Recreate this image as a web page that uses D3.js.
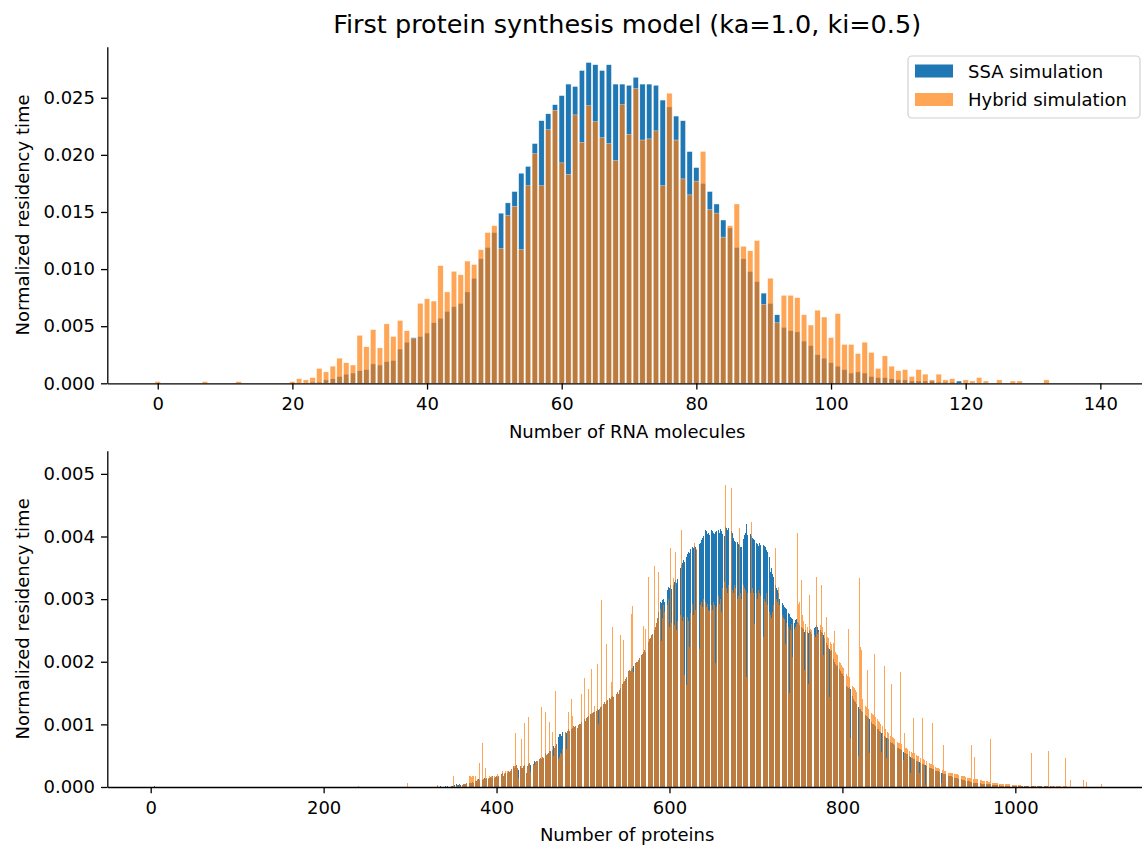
<!DOCTYPE html>
<html><head><meta charset="utf-8">
<script src="https://cdn.jsdelivr.net/npm/d3@7"></script>
<style>
body{margin:0;background:#fff}
svg{display:block}
text{font-family:"DejaVu Sans",sans-serif;fill:#000}
</style>
</head><body>
<svg id="chart" width="1142" height="845"></svg>
<script>
// ---------------- DATA ----------------
const titleText = "First protein synthesis model (ka=1.0, ki=0.5)";
const seriesNames = ["SSA simulation", "Hybrid simulation"];
const yLabelText = "Normalized residency time";
const rnaXLabel = "Number of RNA molecules";
const proteinXLabel = "Number of proteins";

// RNA histogram: categories 0..132
const rnaCounts = d3.range(0, 133);
const ssaRna = [
0,0,0,0,0,0,0,0,0,0,
0,0,0,0,0,0,0,0,0,0,
0,0,0,0.0001,0.0001,0.0003,0.0004,0.0006,0.0008,0.0009,
0.0011,0.0012,0.0017,0.0016,0.0019,0.0020,0.0030,0.0036,0.0040,0.0041,
0.0044,0.0053,0.0057,0.0063,0.0067,0.0070,0.0080,0.0092,0.0109,0.0119,
0.0132,0.0149,0.0158,0.0168,0.0184,0.0190,0.0210,0.0230,0.0236,0.0244,
0.0252,0.0262,0.0260,0.0274,0.0281,0.0279,0.0274,0.0279,0.0262,0.0262,
0.0261,0.0268,0.0262,0.0262,0.0261,0.0248,0.0242,0.0234,0.0230,0.0203,
0.0189,0.0175,0.0168,0.0157,0.0143,0.0136,0.0119,0.0109,0.0098,0.0089,
0.0079,0.0070,0.0060,0.0049,0.0046,0.0045,0.0037,0.0033,0.0025,0.0022,
0.0018,0.0015,0.0012,0.0009,0.0010,0.0009,0.0006,0.0005,0.0005,0.0004,
0.0003,0.0003,0.0002,0.0002,0.0002,0.0002,0.0001,0.0001,0.0001,0.0002,
0,0,0,0,0,0,0,0,0,0,0,0,0
];
const hybridRna = [
0.00015,0,0,0,0,0,0,0.00015,0,0,
0,0,0.00015,0,0,0,0,0,0,0,
0.00015,0.0004,0.0003,0.0005,0.0013,0.0010,0.0015,0.0022,0.0018,0.0016,
0.0042,0.0032,0.0047,0.0031,0.0052,0.0041,0.0055,0.0046,0.0039,0.0070,
0.0074,0.0072,0.0103,0.0080,0.0098,0.0095,0.0107,0.0104,0.0117,0.0132,
0.0138,0.0118,0.0147,0.0155,0.0117,0.0173,0.0201,0.0173,0.0222,0.0239,
0.0193,0.0183,0.0235,0.0211,0.0243,0.0229,0.0215,0.0210,0.0195,0.0244,
0.0218,0.0258,0.0213,0.0214,0.0221,0.0173,0.0254,0.0213,0.0179,0.0165,
0.0177,0.0203,0.0152,0.0149,0.0128,0.0138,0.0157,0.0120,0.0116,0.0125,
0.0069,0.0092,0.0053,0.0077,0.0077,0.0075,0.0060,0.0051,0.0064,0.0058,
0.0040,0.0061,0.0034,0.0034,0.0026,0.0036,0.0027,0.0013,0.0024,0.0015,
0.0011,0.0012,0.0006,0.0012,0.0008,0.0003,0.0008,0.0003,0.0004,0,
0.0003,0.0002,0.0005,0.0002,0,0.0003,0,0.0002,0.0002,0,0,0,0.0003
];
const rnaXTicks = [0,20,40,60,80,100,120,140];
const rnaYTicks = [0,0.005,0.010,0.015,0.020,0.025];

// Protein histogram: values in units of 1e-5, categories start at 330
const proteinUnit = 1e-5;
const proteinStart = 330;
const ssaProtein = [
0,0,1,0,0,1,0,0,1,0,
0,1,0,1,0,1,1,0,1,2,
2,3,3,2,4,3,3,4,3,4,
4,3,5,4,5,6,5,6,7,6,
7,6,8,7,9,8,10,9,11,12,
11,10,12,13,11,12,14,13,15,16,
14,13,15,16,14,17,16,13,15,16,
17,16,18,14,12,19,20,22,18,21,
22,24,21,23,25,24,26,28,30,32,
34,31,33,35,30,27,32,34,33,31,
30,33,35,32,29,23,34,36,38,35,
37,40,39,36,41,40,42,41,43,40,
44,46,45,48,47,50,52,54,51,53,
55,57,58,60,62,59,65,63,66,68,
72,76,80,84,85,82,88,86,84,84,
88,86,89,92,90,94,96,93,95,97,
96,98,95,97,94,99,101,100,103,105,
104,107,109,106,110,112,113,111,115,117,
116,118,120,119,121,123,122,124,123,125,
127,129,126,131,133,135,132,137,139,136,
140,142,141,144,146,143,148,147,150,149,
152,148,155,158,160,162,165,168,170,172,
175,178,182,185,187,186,188,190,193,196,
195,198,200,199,203,206,208,205,210,213,
215,218,216,221,224,228,232,236,238,242,
244,241,246,250,255,262,270,280,290,293,
296,294,298,300,296,305,309,312,315,320,
318,322,316,314,318,323,327,330,326,332,
335,340,345,350,354,357,362,360,366,370,
368,372,376,374,380,378,382,384,381,385,
383,379,380,384,386,388,390,394,398,400,
402,405,411,408,404,406,403,409,407,410,
408,405,404,407,409,411,413,410,406,412,
408,404,399,397,401,415,413,410,414,412,
408,414,409,405,398,393,392,390,395,392,
388,386,384,383,385,390,396,402,405,420,
402,410,408,406,404,400,398,396,394,394,
392,390,388,385,389,386,390,387,384,386,
385,383,378,376,374,372,368,344,350,340,
336,330,325,322,318,314,310,300,302,298,
296,294,290,288,286,284,282,280,278,276,
272,270,268,266,264,262,266,268,264,262,
258,262,260,256,254,252,248,250,246,244,
248,246,250,247,245,248,250,252,254,256,
258,255,250,256,253,250,248,246,242,238,
232,236,230,226,222,220,217,218,214,210,
204,200,196,194,195,192,190,188,185,182,
180,177,175,170,165,162,160,158,160,156,
152,150,145,140,138,135,132,133,130,128,
125,124,122,120,120,118,116,115,113,112,
110,108,106,104,103,101,100,99,97,96,
95,93,92,90,88,87,86,84,83,82,
80,79,78,76,75,73,72,71,70,68,
67,66,65,64,63,62,61,60,59,58,
57,56,55,54,53,52,51,50,49,48,
47,46,45,44,43,43,42,41,40,40,
39,38,37,37,36,35,35,34,33,33,
32,31,30,30,29,28,28,27,26,26,
25,25,24,23,23,22,22,21,21,20,
20,19,19,18,18,17,17,16,16,15,
15,15,14,14,13,13,12,12,12,11,
11,11,10,10,10,9,9,9,8,8,
8,8,7,7,7,7,6,6,6,6,
6,5,5,5,5,5,4,4,4,4,
4,4,4,3,3,3,3,3,3,3,
3,3,3,2,2,2,2,2,2,2,
2,2,2,2,2,2,2,1,2,1,
2,1,2,1,1,2,1,1,1,1,
1,1,1,1,1,1,1,1,1,1,
1,1,1,1,1,1,1,1,1,1,
1,1,1,1,1,1,1,1,0,1,
0,1,0,0,1,0,0,0,0,0
];
const hybridProtein = [
5,0,3,0,0,0,0,0,0,0,
0,0,0,0,0,26,0,0,2,0,
17,2,1,2,1,3,2,3,1,4,
4,3,5,4,5,6,16,17,16,18,
17,16,17,18,7,8,17,9,12,11,
39,12,13,11,70,12,13,31,15,16,
50,14,17,16,18,17,16,18,17,16,
17,20,18,15,13,28,20,26,18,22,
26,24,22,26,25,24,26,28,91,35,
34,33,86,35,30,15,32,34,33,76,
30,33,102,32,29,22,34,111,38,24,
37,76,39,36,35,40,42,41,43,40,
44,46,127,48,47,50,52,119,51,53,
55,104,58,60,62,88,50,63,153,68,
72,50,45,48,55,52,60,86,70,139,
88,60,89,120,90,94,96,140,113,97,
96,98,125,97,94,99,101,100,148,140,
104,107,174,106,110,112,157,111,115,117,
189,118,120,129,121,123,122,197,100,125,
127,298,126,172,133,135,132,229,139,136,
140,142,141,168,256,143,148,147,226,149,
152,148,155,242,160,130,165,235,170,172,
175,178,230,185,187,186,276,289,183,160,
195,198,200,199,203,206,256,205,210,213,
257,218,252,216,224,276,336,236,238,242,
244,241,246,353,255,262,270,344,290,280,
285,233,270,290,280,250,265,270,290,300,
255,382,262,255,265,333,258,375,250,265,
255,270,262,275,410,265,272,179,260,270,
163,272,265,224,278,270,282,292,275,389,
282,380,278,213,282,221,290,295,288,300,
300,473,295,288,292,282,281,300,295,290,
282,296,290,198,288,300,282,305,292,300,
280,318,310,322,328,482,318,310,322,315,
197,318,477,315,310,322,318,315,310,300,
305,413,310,300,250,310,322,318,315,176,
310,318,315,322,310,423,318,310,260,315,
318,310,300,315,310,305,300,295,413,240,
300,295,310,290,280,285,280,275,270,280,
290,285,434,381,300,295,319,290,133,285,
280,275,270,268,229,262,297,258,255,150,
250,260,208,248,255,252,256,260,405,293,
295,290,280,331,275,265,187,260,258,256,
255,165,307,252,250,160,246,244,242,240,
336,245,248,181,252,258,322,255,211,248,
245,242,272,240,238,144,232,228,225,96,
230,249,215,212,210,272,205,200,198,195,
192,190,188,242,185,180,178,252,175,78,
168,165,162,160,158,155,152,150,148,50,
333,224,219,140,138,135,133,130,128,187,
125,54,163,120,118,116,115,213,112,202,
110,108,105,103,100,56,98,96,94,194,
92,46,88,86,85,84,82,165,80,78,
76,75,74,73,72,71,70,183,68,67,
66,43,86,63,62,61,60,59,58,22,
56,55,110,54,53,52,51,50,49,22,
47,46,45,110,44,43,3,42,41,40,
39,38,37,36,102,35,34,33,32,31,
30,30,29,28,28,6,27,67,26,25,
25,24,24,23,23,22,22,22,72,21,
21,20,20,20,19,61,19,18,18,18,
17,17,16,16,16,15,15,15,14,67,
14,14,13,48,13,12,12,12,46,11,
11,11,10,10,10,9,9,9,9,8,
8,76,8,7,7,7,7,6,6,6,
30,6,5,5,5,5,5,5,23,4,
4,4,4,4,4,3,3,3,3,3,
3,3,3,3,3,3,3,2,2,2,
2,2,2,2,2,2,2,2,2,54,
2,2,2,2,32,2,1,1,1,1,
1,1,1,1,1,1,1,1,58,20,
1,1,1,1,1,1,1,1,1,1,
1,1,1,1,1,1,1,1,46,1,
0,0,0,0,11,0,0,0,0,0,
0,0,0,0,0,0,0,0,0,11,
0,0,8,0,0,0,0,0,0,0,
0,0,0,0,0,0,0,0,0,0,5
];
// isolated early bins
const ssaProteinExtraCounts = [4];
const ssaProteinExtraValues = [1];
const hybridProteinExtraCounts = [240, 279, 297, 323];
const hybridProteinExtraValues = [2, 7, 7, 5];
const proteinXTicks = [0,200,400,600,800,1000];
const proteinYTicks = [0,0.001,0.002,0.003,0.004,0.005];

// ---------------- BUILD ----------------
const colors = ["#1f77b4", "#ff7f0e"];
const svg = d3.select("#chart");
const axL = 107.3, axR = 1147;

function toPoints(counts, values, scale) {
  return counts.map((c, i) => ({x: c, y: values[i] * scale})).filter(d => d.y > 0);
}
const rnaSSA = toPoints(rnaCounts, ssaRna, 1);
const rnaHyb = toPoints(rnaCounts, hybridRna, 1);
const protSSA = toPoints(ssaProteinExtraCounts, ssaProteinExtraValues, proteinUnit)
  .concat(toPoints(ssaProtein.map((_, i) => proteinStart + i), ssaProtein, proteinUnit));
const protHyb = toPoints(hybridProteinExtraCounts, hybridProteinExtraValues, proteinUnit)
  .concat(toPoints(hybridProtein.map((_, i) => proteinStart + i), hybridProtein, proteinUnit));

function panel(opt) {
  const x = d3.scaleLinear().domain(opt.xDomain).range([axL, axR]);
  const y = d3.scaleLinear().domain(opt.yDomain).range([opt.bottom, opt.top]);
  const g = svg.append("g");
  const bw = x(0.8) - x(0);
  const series = [opt.ssa, opt.hyb];
  series.forEach((data, si) => {
    g.append("g")
      .attr("shape-rendering", opt.crisp ? "crispEdges" : null)
      .selectAll("rect").data(data).join("rect")
      .attr("x", d => x(d.x - 0.4))
      .attr("width", bw)
      .attr("y", d => y(d.y))
      .attr("height", d => y(0) - y(d.y))
      .attr("fill", colors[si])
      .attr("fill-opacity", si === 1 ? 0.7 : 1)
      .attr("stroke", opt.stroke ? "#fff" : null)
      .attr("stroke-width", opt.stroke ? 0.5 : null)
      .attr("stroke-opacity", si === 1 ? 0.7 : 1);
  });
  // axes
  const xa = g.append("g").attr("transform", `translate(0,${opt.bottom})`)
    .call(d3.axisBottom(x).tickValues(opt.xTicks).tickFormat(d3.format("d"))
      .tickSize(6.3).tickPadding(8).tickSizeOuter(0));
  const ya = g.append("g").attr("transform", `translate(${axL},0)`)
    .call(d3.axisLeft(y).tickValues(opt.yTicks).tickFormat(d3.format(".3f"))
      .tickSize(6.3).tickPadding(6).tickSizeOuter(0));
  [xa, ya].forEach(a => {
    a.attr("font-size", null).attr("font-family", null);
    a.selectAll("text").style("font-size", "18px").attr("fill", "#000");
    a.selectAll("line").attr("stroke", "#000").attr("stroke-width", 1.3);
    a.select(".domain").attr("stroke", "#000").attr("stroke-width", 1.3);
  });
  g.append("text").attr("x", (axL + axR) / 2).attr("y", opt.xLabelY)
    .attr("text-anchor", "middle").attr("dominant-baseline", "central")
    .style("font-size", "18px").text(opt.xLabel);
  g.append("text").attr("transform", `translate(22,${(opt.top + opt.bottom) / 2}) rotate(-90)`)
    .attr("text-anchor", "middle").attr("dominant-baseline", "central")
    .style("font-size", "18px").text(yLabelText);
  return g;
}

panel({
  xDomain: [-7.49, 146.93], yDomain: [0, 0.02947], top: 46.7, bottom: 383.3,
  ssa: rnaSSA, hyb: rnaHyb, xTicks: rnaXTicks, yTicks: rnaYTicks,
  xLabel: rnaXLabel, xLabelY: 431, stroke: true, crisp: false
});
panel({
  xDomain: [-50.2, 1152.3], yDomain: [0, 0.00537], top: 450.7, bottom: 787,
  ssa: protSSA, hyb: protHyb, xTicks: proteinXTicks, yTicks: proteinYTicks,
  xLabel: proteinXLabel, xLabelY: 834, stroke: false, crisp: true
});

// title
svg.append("text").attr("x", (axL + axR) / 2).attr("y", 24)
  .attr("text-anchor", "middle").attr("dominant-baseline", "central")
  .style("font-size", "25.5px").text(titleText);

// legend
const lg = svg.append("g");
lg.append("rect").attr("x", 908).attr("y", 56).attr("width", 232).attr("height", 62)
  .attr("rx", 4).attr("fill", "#fff").attr("fill-opacity", 0.8)
  .attr("stroke", "#d0d0d0").attr("stroke-width", 1.2);
const legendRows = [71, 99.5];
seriesNames.forEach((name, i) => {
  lg.append("rect").attr("x", 915).attr("y", legendRows[i] - 6.5).attr("width", 38).attr("height", 13)
    .attr("fill", colors[i]).attr("fill-opacity", i === 1 ? 0.7 : 1);
  lg.append("text").attr("x", 968).attr("y", legendRows[i]).attr("dominant-baseline", "central")
    .style("font-size", "18px").text(name);
});
</script>
</body></html>
